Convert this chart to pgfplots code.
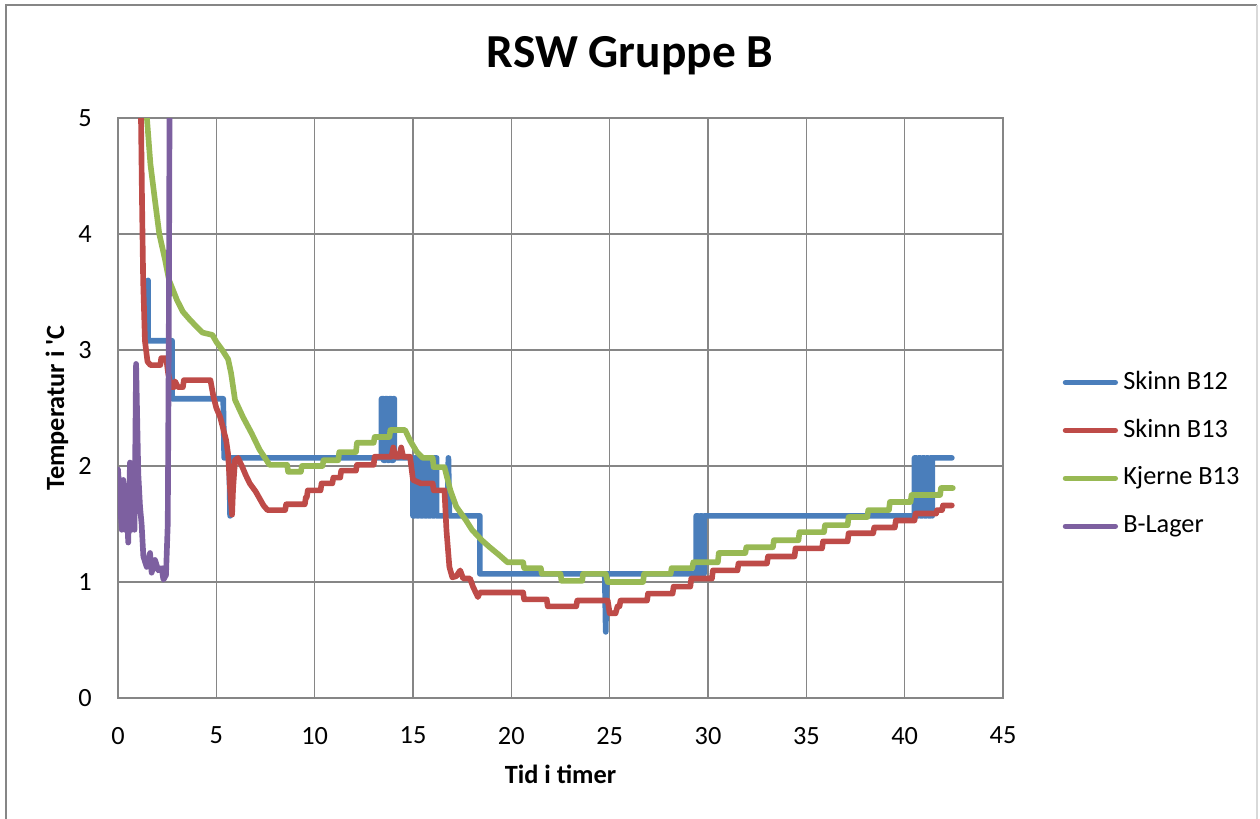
\documentclass[border=0pt]{standalone}
\usepackage{pgfplots}
\pgfplotsset{compat=1.18}
\usepackage{fontspec}
\setmainfont{Carlito}
\definecolor{cblue}{HTML}{4A7EBB}
\definecolor{cred}{HTML}{BE4B48}
\definecolor{cgreen}{HTML}{98B954}
\definecolor{cpurple}{HTML}{7D60A0}
\definecolor{cgrid}{HTML}{868686}
\begin{document}
\begin{tikzpicture}
\useasboundingbox (-44.84pt,-45.6pt) rectangle (433.96pt,265.24pt);
\draw[color=cgrid, line width=0.76pt] (-42.56pt,-50pt) -- (-42.56pt,263.34pt) -- (432.82pt,263.34pt);
\draw[color=black!15, line width=0.6pt] (432.82pt,263.34pt) -- (432.82pt,-50pt);
\node[anchor=base, font=\fontsize{18}{20}\selectfont\bfseries] at (194.56pt,239.4pt) {RSW Gruppe B};
\begin{axis}[
  scale only axis,
  width=336.3pt, height=220.4pt,
  xmin=0, xmax=45, ymin=0, ymax=5,
  xtick={0,5,...,45}, ytick={0,1,...,5},
  grid=major,
  grid style={color=cgrid, line width=0.57pt},
  axis line style={color=cgrid, line width=0.57pt},
  major tick length=0pt,
  tick label style={font=\fontsize{10}{12}\selectfont},
  /pgf/number format/assume math mode=true,
  yticklabel style={xshift=-6.5pt},
  xticklabel style={yshift=-7.5pt},
  xlabel={Tid i timer},
  ylabel={Temperatur i \textquotesingle C},
  xlabel style={font=\fontsize{10}{12}\selectfont\bfseries, at={(axis description cs:0.5,-0.131)}, anchor=center},
  ylabel style={font=\fontsize{10}{12}\selectfont\bfseries, at={(axis description cs:-0.069,0.5)}, anchor=center, rotate=0},
  every axis plot/.append style={line width=2.15pt, line join=round, line cap=round},
  legend cell align=left,
  legend style={draw=none, fill=none, at={(axis description cs:1.058,0.42)}, anchor=west,
    font=\fontsize{10}{12}\selectfont, row sep=5.2pt,
    nodes={text height=7pt, text depth=2pt, inner sep=2pt}},
  legend image code/.code={\draw[#1, line width=2.0pt, line cap=round] (0pt,0pt) -- (19pt,0pt);},
  clip=true,
]
\addplot[color=cblue] coordinates {
(1.53,3.6)(1.53,3.08)(2.75,3.08)(2.75,2.58)(5.35,2.58)(5.4,2.07)(5.65,2.07)(5.7,1.57)(5.75,2.07)(13.4,2.07)
(13.4,2.58)(13.5,2.58)(13.5,2.05)(13.6,2.05)(13.6,2.58)(13.7,2.58)(13.7,2.05)(13.8,2.05)(13.8,2.58)(13.9,2.58)(13.9,2.05)(14.0,2.05)(14.0,2.58)(14.05,2.58)(14.05,2.07)
(15.0,2.07)(15.0,1.57)(15.1,1.57)(15.1,2.07)(15.2,2.07)(15.2,1.57)(15.3,1.57)(15.3,2.07)(15.4,2.07)(15.4,1.57)(15.5,1.57)(15.5,2.07)(15.6,2.07)(15.6,1.57)(15.7,1.57)(15.7,2.07)(15.8,2.07)(15.8,1.57)(15.9,1.57)(15.9,2.07)(16.0,2.07)(16.0,1.57)(16.1,1.57)(16.1,2.07)(16.2,2.07)(16.2,1.57)
(16.75,1.57)(16.8,2.07)(16.85,1.57)(18.4,1.57)(18.4,1.07)(24.75,1.07)(24.8,0.57)(24.85,1.07)
(29.4,1.07)(29.4,1.57)(29.5,1.57)(29.5,1.07)(29.6,1.07)(29.6,1.57)(29.7,1.57)(29.7,1.07)(29.8,1.07)(29.8,1.57)
(40.5,1.57)(40.5,2.07)(40.6,2.07)(40.6,1.57)(40.7,1.57)(40.7,2.07)(40.8,2.07)(40.8,1.57)(40.9,1.57)(40.9,2.07)(41.0,2.07)(41.0,1.57)(41.1,1.57)(41.1,2.07)(41.2,2.07)(41.2,1.57)(41.3,1.57)(41.3,2.07)(41.4,2.07)(41.4,1.57)(41.4,2.07)
(42.4,2.07)
};
\addlegendentry{Skinn B12}
\addplot[color=cred] coordinates {
(1.12,5.6)(1.17,5.0)(1.22,4.3)(1.28,3.6)(1.37,3.08)(1.5,2.9)(1.65,2.87)(2.15,2.87)(2.2,2.93)(2.45,2.93)(2.55,2.8)(2.7,2.68)(2.85,2.68)(2.9,2.73)(3.05,2.68)(3.3,2.68)(3.35,2.74)(4.7,2.74)
(4.85,2.6)(5.0,2.5)(5.2,2.42)(5.35,2.32)(5.5,2.22)(5.6,2.1)(5.7,1.8)(5.8,1.58)(5.85,1.8)(5.95,2.05)(6.1,2.07)(6.3,2.0)(6.5,1.92)(6.7,1.85)(7.0,1.78)(7.2,1.72)(7.4,1.66)(7.6,1.62)
(8.5,1.62)(8.55,1.67)(9.5,1.67)(9.55,1.73)(9.6,1.73)(9.65,1.79)(10.3,1.79)(10.35,1.85)(10.9,1.85)(10.95,1.9)(11.3,1.9)(11.35,1.96)(12.1,1.96)(12.15,2.01)(13.0,2.01)(13.05,2.08)
(13.9,2.08)(14.0,2.16)(14.1,2.08)(14.3,2.08)(14.4,2.16)(14.5,2.08)(14.85,2.08)(15.0,1.88)(15.4,1.85)(16.0,1.85)(16.05,1.79)(16.6,1.79)
(16.7,1.45)(16.85,1.13)(17.0,1.04)(17.2,1.05)(17.4,1.1)(17.55,1.03)(17.9,1.03)(18.05,0.96)(18.3,0.87)(18.4,0.91)(20.6,0.91)(20.65,0.85)(21.8,0.85)(21.85,0.79)(23.3,0.79)(23.35,0.84)(24.9,0.84)
(25.0,0.73)(25.3,0.73)(25.4,0.79)(25.5,0.79)(25.55,0.84)(26.9,0.84)(26.95,0.9)(28.2,0.9)(28.25,0.96)(29.1,0.96)(29.15,1.03)(30.2,1.03)(30.25,1.10)(31.5,1.10)(31.55,1.16)(33.0,1.16)(33.05,1.22)(34.4,1.22)(34.45,1.29)(35.8,1.29)(35.85,1.35)(37.1,1.35)(37.15,1.42)(38.4,1.42)(38.45,1.47)(39.5,1.47)(39.55,1.53)(40.5,1.53)(40.55,1.59)(41.6,1.59)(41.65,1.62)(41.9,1.62)(41.95,1.66)(42.4,1.66)
};
\addlegendentry{Skinn B13}
\addplot[color=cgreen] coordinates {
(1.4,5.6)(1.47,5.0)(1.65,4.6)(1.88,4.29)(2.1,4.0)(2.39,3.78)(2.6,3.6)(3.0,3.43)(3.3,3.33)(3.66,3.26)(4.0,3.2)(4.3,3.15)(4.8,3.13)(5.0,3.07)(5.3,3.0)(5.6,2.92)(5.75,2.8)(5.95,2.57)(6.36,2.42)(6.8,2.28)(7.2,2.14)(7.55,2.05)(7.7,2.01)
(8.6,2.01)(8.65,1.95)(9.3,1.95)(9.35,2.0)(10.4,2.0)(10.45,2.05)(11.2,2.05)(11.25,2.12)(12.1,2.12)(12.15,2.2)(13.0,2.2)(13.05,2.25)(13.8,2.25)(13.85,2.31)(14.6,2.31)(14.85,2.22)(15.2,2.12)(15.5,2.07)(16.0,2.07)(16.05,1.99)(16.6,1.99)
(16.9,1.79)(17.2,1.65)(17.7,1.53)(18.0,1.45)(18.5,1.36)(18.9,1.30)(19.4,1.23)(19.8,1.17)(20.6,1.17)(20.65,1.12)(21.5,1.12)(21.55,1.07)(22.5,1.07)(22.55,1.01)(23.6,1.01)(23.65,1.07)(24.8,1.07)(24.9,1.0)(26.7,1.0)(26.75,1.07)(28.1,1.07)(28.15,1.12)(29.2,1.12)(29.25,1.17)(30.5,1.17)(30.55,1.25)(31.9,1.25)(31.95,1.30)(33.3,1.30)(33.35,1.36)(34.6,1.36)(34.65,1.43)(35.9,1.43)(35.95,1.49)(37.1,1.49)(37.15,1.56)(38.1,1.56)(38.15,1.62)(39.2,1.62)(39.25,1.69)(40.3,1.69)(40.35,1.75)(41.8,1.75)(41.85,1.81)(42.45,1.81)
};
\addlegendentry{Kjerne B13}
\addplot[color=cpurple] coordinates {
(0.0,1.97)(0.1,1.7)(0.19,1.45)(0.27,1.88)(0.36,1.45)(0.44,1.71)(0.52,1.34)(0.61,2.03)(0.69,1.45)(0.78,1.71)(0.84,1.45)(0.92,2.88)(1.03,1.94)(1.12,1.65)(1.2,1.5)(1.29,1.22)(1.46,1.13)(1.63,1.25)(1.71,1.08)(1.88,1.19)(2.05,1.1)(2.22,1.12)(2.31,1.02)(2.44,1.06)(2.53,1.5)(2.58,3.0)(2.62,5.0)(2.64,5.6)
};
\addlegendentry{B-Lager}
\end{axis}
\end{tikzpicture}
\end{document}
